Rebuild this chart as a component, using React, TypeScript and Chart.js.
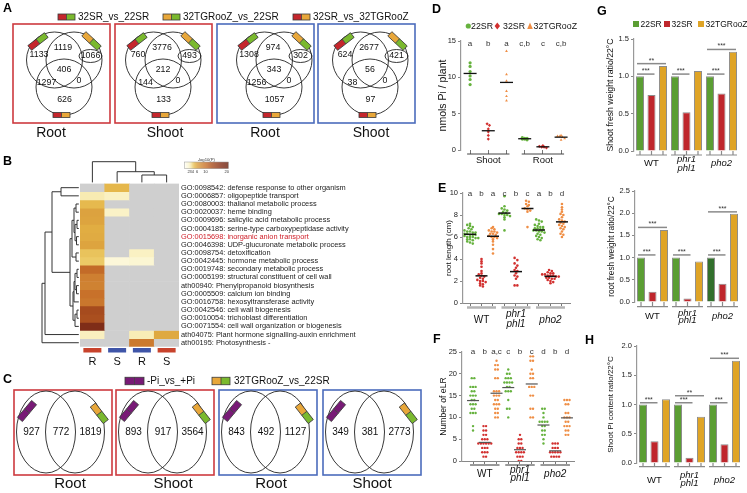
import React, { useEffect, useRef } from 'react';
import { Chart, registerables } from 'chart.js';

Chart.register(...registerables);

const FF = '"Liberation Sans", Arial, Helvetica, sans-serif';
Chart.defaults.font.family = FF;
Chart.defaults.color = '#222';

const RED = '#c5262c';
const GREEN = '#7ab92e';
const ORANGE = '#e8a73a';
const PURPLE = '#781a76';
const BLUE = '#3f55a8';
const BOX_RED = '#cd3a3f';
const BOX_BLUE = '#4b6cbc';

// ================= Panel A (Venn counts) =================
const A_LEGEND = ['32SR_vs_22SR', '32TGRooZ_vs_22SR', '32SR_vs_32TGRooZ'];
const A_TISSUES = ['Root', 'Shoot', 'Root', 'Shoot'];
// order: left only, left∩right, right only, all three, left∩bottom, right∩bottom, bottom only
const A_ROOT_1 = [1133, 1119, 1066, 406, 1297, 0, 626];
const A_SHOOT_1 = [760, 3776, 493, 212, 144, 0, 133];
const A_ROOT_2 = [1308, 974, 302, 343, 1256, 0, 1057];
const A_SHOOT_2 = [624, 2677, 421, 56, 38, 0, 97];

// ================= Panel B (enrichment heatmap, -log10 P) =================
const HEAT_TERMS = [
  'GO:0098542: defense response to other organism',
  'GO:0006857: oligopeptide transport',
  'GO:0080003: thalianol metabolic process',
  'GO:0020037: heme binding',
  'GO:0009696: salicylic acid metabolic process',
  'GO:0004185: serine-type carboxypeptidase activity',
  'GO:0015698: inorganic anion transport',
  'GO:0046398: UDP-glucuronate metabolic process',
  'GO:0098754: detoxification',
  'GO:0042445: hormone metabolic process',
  'GO:0019748: secondary metabolic process',
  'GO:0005199: structural constituent of cell wall',
  'ath00940: Phenylpropanoid biosynthesis',
  'GO:0005509: calcium ion binding',
  'GO:0016758: hexosyltransferase activity',
  'GO:0042546: cell wall biogenesis',
  'GO:0010054: trichoblast differentiation',
  'GO:0071554: cell wall organization or biogenesis',
  'ath04075: Plant hormone signalling-auxin enrichment',
  'ath00195: Photosynthesis -',
];
const HEAT_HIGHLIGHT = 6;
const HEAT_COL_LABELS = ['R', 'S', 'R', 'S'];
const HEAT_COL_1 = [null, 2.7, 4.7, 5.9, 5.8, 5.3, 5.4, 5.8, 4.3, 4.0, 10.5, 8.7, 8.5, 10, 9.5, 13.5, 13, 18, 2.4, null];
const HEAT_COL_2 = [4.8, 2.3, null, 2.2, null, null, null, null, null, 1.5, null, null, null, null, null, null, null, null, null, null];
const HEAT_COL_3 = [null, null, null, null, null, null, null, null, 2.3, 1.8, null, null, null, null, null, null, null, null, 2.6, 9.2];
const HEAT_COL_4 = [null, null, null, null, null, null, null, null, null, null, null, null, null, null, null, null, null, null, 5.5, null];
const HEAT_KEY_TICKS = [2, 3, 4, 6, 10, 20];

// ================= Panel C =================
const C_LEGEND = ['-Pi_vs_+Pi', '32TGRooZ_vs_22SR'];
const C_TISSUES = ['Root', 'Shoot', 'Root', 'Shoot'];
const C_ROOT_1 = [927, 772, 1819];
const C_SHOOT_1 = [893, 917, 3564];
const C_ROOT_2 = [843, 492, 1127];
const C_SHOOT_2 = [349, 381, 2773];

// ================= Panel D =================
const TREATMENTS = ['22SR', '32SR', '32TGRooZ'];
const D_TISSUES = ['Shoot', 'Root'];
const D_SHOOT_22SR = [12.0, 11.5, 10.8, 10.2, 9.7, 9.0];
const D_SHOOT_32SR = [3.6, 3.4, 2.9, 2.5, 2.0, 1.5];
const D_SHOOT_32TG = [13.6, 10.4, 9.5, 8.1, 7.4, 6.8];
const D_ROOT_22SR = [1.7, 1.6, 1.6, 1.5, 1.5, 1.4];
const D_ROOT_32SR = [0.6, 0.5, 0.4, 0.4, 0.3];
const D_ROOT_32TG = [2.0, 1.9, 1.9, 1.8, 1.6, 1.4];
const D_LETTERS = ['a', 'b', 'a', 'c,b', 'c', 'c,b'];

// ================= Panel E (root length, cm) =================
const GENOTYPES = ['WT', 'phr1 phl1', 'pho2'];
const E_WT_22SR = [7.2, 7.1, 7.0, 6.9, 6.8, 6.7, 6.6, 6.5, 6.5, 6.4, 6.4, 6.3, 6.3, 6.2, 6.2, 6.2, 6.1, 6.1, 6.0, 6.0, 6.0, 5.9, 5.9, 5.8, 5.8, 5.7, 5.6, 5.5, 5.4];
const E_WT_32SR = [4.0, 3.8, 3.6, 3.3, 2.9, 2.7, 2.6, 2.5, 2.4, 2.3, 2.2, 2.1, 2.0, 2.0, 1.9, 1.8, 1.7, 1.6, 1.5];
const E_WT_32TG = [6.9, 6.8, 6.7, 6.6, 6.5, 6.5, 6.4, 6.3, 6.3, 6.2, 6.1, 6.0, 6.0, 5.9, 5.8, 5.6, 5.3, 4.9, 4.5];
const E_PHR_22SR = [9.7, 8.8, 8.6, 8.5, 8.4, 8.3, 8.2, 8.1, 8.1, 8.0, 8.0, 7.9, 7.8, 7.6, 6.6];
const E_PHR_32SR = [4.1, 3.9, 3.6, 3.4, 3.2, 3.0, 2.9, 2.7, 2.5, 2.4, 2.2, 1.6, 1.6];
const E_PHR_32TG = [9.3, 9.2, 9.0, 8.9, 8.8, 8.6, 8.5, 8.4, 8.3, 6.9];
const E_PHO_22SR = [7.6, 7.5, 7.4, 7.2, 7.1, 7.0, 6.9, 6.9, 6.8, 6.8, 6.7, 6.7, 6.6, 6.6, 6.5, 6.5, 6.4, 6.3, 6.2, 6.1, 6.0, 5.9, 5.8, 5.7];
const E_PHO_32SR = [3.0, 2.9, 2.8, 2.7, 2.7, 2.6, 2.6, 2.5, 2.5, 2.5, 2.4, 2.4, 2.3, 2.3, 2.2, 2.2, 2.1, 2.0, 1.9, 1.8];
const E_PHO_32TG = [9.0, 8.7, 8.5, 8.3, 8.1, 8.0, 7.8, 7.6, 7.5, 7.4, 7.3, 7.2, 7.1, 7.0, 6.9, 6.8, 6.7, 6.5, 6.3, 6.2, 6.0];
const E_LETTERS = ['a', 'b', 'a', 'c', 'b', 'c', 'a', 'b', 'd'];

// ================= Panel F (number of eLR) =================
const F_WT_22SR = [19, 19, 17, 17, 17, 16, 16, 15, 15, 15, 14, 14, 13, 13, 13, 12, 12, 11, 11, 11, 8, 7];
const F_WT_32SR = [8, 8, 7, 7, 6, 6, 5, 5, 5, 4, 4, 4, 4, 4, 4, 3, 3, 3, 2, 2, 2, 1, 1];
const F_WT_32TG = [23, 22, 22, 21, 21, 19, 19, 16, 16, 16, 15, 15, 15, 14, 14, 13, 13, 13, 12, 12, 11, 11, 10, 10];
const F_PHR_22SR = [21, 20, 20, 19, 19, 19, 18, 18, 18, 18, 17, 17, 16, 16, 16, 14, 12, 12, 10];
const F_PHR_32SR = [6, 5, 5, 4, 4, 3, 3, 3, 2, 2, 2, 2, 1, 1, 1, 0, 0];
const F_PHR_32TG = [24, 24, 23, 23, 21, 20, 20, 19, 19, 17, 17, 17, 15, 15, 12, 12, 10, 10];
const F_PHO_22SR = [12, 12, 11, 10, 9, 9, 9, 9, 8, 8, 7, 7, 6, 6, 5, 4];
const F_PHO_32SR = [4, 4, 4, 3, 3, 3, 2, 2, 2, 2, 2, 1, 1, 1, 1];
const F_PHO_32TG = [14, 14, 14, 13, 13, 11, 11, 10, 10, 10, 9, 9, 8, 8, 8, 7, 7, 6, 6];
const F_LETTERS = ['a', 'b', 'a,c', 'c', 'b', 'c', 'd', 'b', 'd'];

// ================= Panel G / H (ratios to 22°C) =================
const G_SHOOT_22SR = [1.0, 1.0, 1.0];
const G_SHOOT_32SR = [0.75, 0.52, 0.77];
const G_SHOOT_32TG = [1.14, 1.07, 1.33];
const G_SHOOT_SIG = [[0, 0, 1, 1.03, '***'], [0, 0, 2, 1.17, '**'], [1, 0, 1, 1.03, '***'], [2, 0, 1, 1.03, '***'], [2, 0, 2, 1.36, '***']];
const G_ROOT_22SR = [1.0, 1.0, 1.0];
const G_ROOT_32SR = [0.23, 0.08, 0.41];
const G_ROOT_32TG = [1.62, 0.91, 1.99];
const G_ROOT_SIG = [[0, 0, 1, 1.06, '***'], [0, 0, 2, 1.68, '***'], [1, 0, 1, 1.06, '***'], [2, 0, 1, 1.06, '***'], [2, 0, 2, 2.03, '***']];
const H_22SR = [1.0, 1.0, 1.0];
const H_32SR = [0.37, 0.09, 0.32];
const H_32TG = [1.09, 0.79, 1.75];
const H_SIG = [[0, 0, 1, 1.03, '***'], [1, 0, 1, 1.03, '***'], [1, 0, 2, 1.15, '**'], [2, 0, 1, 1.03, '***'], [2, 0, 2, 1.79, '***']];

// ---------------- helpers ----------------
function txt(ctx: any, s: string, x: number, y: number, size: number, o: any = {}) {
  ctx.font = `${o.italic ? 'italic ' : ''}${o.bold ? 'bold ' : ''}${size}px ${FF}`;
  ctx.fillStyle = o.color || '#111';
  ctx.textAlign = o.align || 'center';
  ctx.textBaseline = o.baseline || 'middle';
  ctx.fillText(s, x, y);
}

function swatch(ctx: any, cx: number, cy: number, angle: number, len: number, h: number, c1: string, c2: string) {
  ctx.save();
  ctx.translate(cx, cy);
  ctx.rotate((angle * Math.PI) / 180);
  ctx.fillStyle = c1;
  ctx.fillRect(-len / 2, -h / 2, len / 2, h);
  ctx.fillStyle = c2;
  ctx.fillRect(0, -h / 2, len / 2, h);
  ctx.strokeStyle = '#3a3a3a';
  ctx.lineWidth = 0.8;
  ctx.strokeRect(-len / 2, -h / 2, len, h);
  ctx.beginPath();
  ctx.moveTo(0, -h / 2);
  ctx.lineTo(0, h / 2);
  ctx.stroke();
  ctx.restore();
}

function mean(a: number[]) {
  return a.reduce((s, v) => s + v, 0) / a.length;
}

function swarm(values: number[], col: number, dx: number, bin: number) {
  const bins = new Map<number, number[]>();
  values.forEach((v) => {
    const k = Math.round(v / bin);
    if (!bins.has(k)) bins.set(k, []);
    bins.get(k)!.push(v);
  });
  const pts: any[] = [];
  bins.forEach((vs) => vs.forEach((v, j) => pts.push({ x: col + (j - (vs.length - 1) / 2) * dx, y: v })));
  return pts;
}

const BASE_OPTS = () => ({
  responsive: false,
  animation: false,
  devicePixelRatio: 1,
  events: [],
  plugins: { legend: { display: false }, tooltip: { enabled: false } },
});

function yAxisCfg(min: number, max: number, step: number, title: string, titleSize: number, width: number, fmt?: any) {
  return {
    type: 'linear',
    min,
    max,
    ticks: { stepSize: step, font: { family: FF, size: 7.5 }, color: '#222', padding: 2, callback: fmt || ((v: any) => v) },
    grid: { display: true, drawOnChartArea: false, drawTicks: true, tickLength: 3, color: '#888' },
    border: { display: true, color: '#999', width: 1.2 },
    title: { display: true, text: title, font: { family: FF, size: titleSize }, color: '#111', padding: 0 },
    afterFit: (s: any) => {
      s.width = width;
    },
  };
}

// ---------------- Venn charts ----------------
function pageConfig(x0: number, x1: number, y0: number, y1: number, plugin: any) {
  return {
    type: 'scatter',
    data: { datasets: [] },
    options: {
      ...BASE_OPTS(),
      layout: { padding: 0 },
      scales: {
        x: { type: 'linear', min: x0, max: x1, display: false },
        y: { type: 'linear', min: y0, max: y1, reverse: true, display: false },
      },
    },
    plugins: [plugin],
  };
}

const A_SETS = [A_ROOT_1, A_SHOOT_1, A_ROOT_2, A_SHOOT_2];
const A_BOX_X = [13, 115, 217, 318];
const A_SHIFT = [0, -3, 6, 1];
const A_LABEL_POS = [[26, 31], [50, 23.5], [77.5, 32], [51, 45.5], [33.5, 58.5], [66, 56.5], [51.5, 75.5]];
const A_TISSUE_X = [51, 165, 265, 371];

const vennAPlugin = {
  id: 'vennA',
  afterDraw(chart: any) {
    const { ctx } = chart;
    const X = (v: number) => chart.scales.x.getPixelForValue(v);
    const Y = (v: number) => chart.scales.y.getPixelForValue(v);
    ctx.save();
    txt(ctx, 'A', X(3), Y(2), 12.5, { bold: true, align: 'left', baseline: 'top', color: '#000' });
    const legX = [58, 163, 293];
    const legC = [[RED, GREEN], [ORANGE, GREEN], [RED, ORANGE]];
    A_LEGEND.forEach((s, i) => {
      swatch(ctx, X(legX[i] + 8.5), Y(17), 0, 17, 6, legC[i][0], legC[i][1]);
      txt(ctx, s, X(legX[i] + 20), Y(17.5), 10, { align: 'left' });
    });
    A_SETS.forEach((nums, i) => {
      const bx = A_BOX_X[i];
      const by = 24;
      const ox = bx + A_SHIFT[i];
      ctx.strokeStyle = i < 2 ? BOX_RED : BOX_BLUE;
      ctx.lineWidth = 1.6;
      ctx.strokeRect(X(bx), Y(by), 97, 99);
      ctx.strokeStyle = '#222';
      ctx.lineWidth = 0.9;
      [[41.5, 36], [61, 36], [51, 63]].forEach(([cx, cy]) => {
        ctx.beginPath();
        ctx.arc(X(ox + cx), Y(by + cy), 28, 0, Math.PI * 2);
        ctx.stroke();
      });
      const [ex, ey] = A_LABEL_POS[2];
      ctx.beginPath();
      ctx.ellipse(X(ox + ex), Y(by + ey), 11.5, 6.5, 0, 0, Math.PI * 2);
      ctx.stroke();
      nums.forEach((n, k) => txt(ctx, String(n), X(ox + A_LABEL_POS[k][0]), Y(by + A_LABEL_POS[k][1]), 8.8));
      swatch(ctx, X(ox + 25), Y(by + 17.5), -38, 21, 6, RED, GREEN);
      swatch(ctx, X(ox + 78.5), Y(by + 17), 43, 21, 6, ORANGE, GREEN);
      swatch(ctx, X(ox + 48.5), Y(by + 91), 0, 17, 5, RED, ORANGE);
      txt(ctx, A_TISSUES[i], X(A_TISSUE_X[i]), Y(133), 14);
    });
    ctx.restore();
  },
};

const C_SETS = [C_ROOT_1, C_SHOOT_1, C_ROOT_2, C_SHOOT_2];
const C_BOX_X = [14, 116, 219, 323];
const C_TISSUE_X = [70, 173, 271, 372];

const vennCPlugin = {
  id: 'vennC',
  afterDraw(chart: any) {
    const { ctx } = chart;
    const X = (v: number) => chart.scales.x.getPixelForValue(v);
    const Y = (v: number) => chart.scales.y.getPixelForValue(v);
    ctx.save();
    txt(ctx, 'C', X(3), Y(373), 12.5, { bold: true, align: 'left', baseline: 'top', color: '#000' });
    swatch(ctx, X(134.5), Y(381), 0, 19, 7.5, PURPLE, PURPLE);
    txt(ctx, C_LEGEND[0], X(147), Y(381.5), 10, { align: 'left' });
    swatch(ctx, X(221), Y(381), 0, 18, 7.5, ORANGE, GREEN);
    txt(ctx, C_LEGEND[1], X(234), Y(381.5), 10, { align: 'left' });
    C_SETS.forEach((nums, i) => {
      const bx = C_BOX_X[i];
      const by = 390;
      ctx.strokeStyle = i < 2 ? BOX_RED : BOX_BLUE;
      ctx.lineWidth = 1.6;
      ctx.strokeRect(X(bx), Y(by), 98, 85);
      ctx.strokeStyle = '#222';
      ctx.lineWidth = 0.9;
      [32, 61].forEach((cx) => {
        ctx.beginPath();
        ctx.ellipse(X(bx + cx), Y(by + 42), 29.5, 41, 0, 0, Math.PI * 2);
        ctx.stroke();
      });
      [17.5, 47, 76.5].forEach((lx, k) => txt(ctx, String(nums[k]), X(bx + lx), Y(by + 42), 10));
      swatch(ctx, X(bx + 13), Y(by + 21), -50, 22, 6.5, PURPLE, PURPLE);
      swatch(ctx, X(bx + 85.3), Y(by + 23.3), 52, 21, 6.5, ORANGE, GREEN);
      txt(ctx, C_TISSUES[i], X(C_TISSUE_X[i]), Y(484), 15);
    });
    ctx.restore();
  },
};

// ---------------- Heatmap ----------------
const HEAT_COLUMNS = [HEAT_COL_1, HEAT_COL_2, HEAT_COL_3, HEAT_COL_4];
const CMAP: [number, number[]][] = [
  [0, [255, 254, 245]], [2, [251, 245, 207]], [3, [246, 231, 166]], [4, [236, 202, 102]], [5, [227, 178, 68]],
  [6, [219, 160, 62]], [8, [209, 135, 53]], [10, [200, 113, 42]], [13, [170, 79, 31]], [17, [135, 49, 26]], [21, [104, 34, 16]],
];
function heatColor(v: any) {
  if (v === null || v === undefined) return '#cfcfcf';
  for (let i = 0; i < CMAP.length - 1; i++) {
    const [a, ca] = CMAP[i];
    const [b, cb] = CMAP[i + 1];
    if (v <= b) {
      const t = Math.max(0, (v - a) / (b - a));
      const c = ca.map((x, k) => Math.round(x + (cb[k] - x) * t));
      return `rgb(${c[0]},${c[1]},${c[2]})`;
    }
  }
  const c = CMAP[CMAP.length - 1][1];
  return `rgb(${c[0]},${c[1]},${c[2]})`;
}

const N = (a: any, b: any, h: number) => ({ a, b, h });
const ROW_TREE = N(
  N(
    N(N(0, 1, 19), N(
      N(N(N(2, 3, 4), N(N(4, 5, 3), N(6, 7, 3.5), 5), 6), N(8, 9, 4), 8),
      N(N(14, N(N(10, 11, 3), N(12, 13, 3.5), 5), 6), N(N(15, 16, 3), 17, 5), 7),
      10), 28),
    18, 35),
  19, 38);
const COL_TREE = N(0, N(1, N(2, 3, 8.6), 11.9), 21.9);

function drawTree(ctx: any, node: any, leaf: (i: number) => number, off: (h: number) => number, orient: string): any {
  if (typeof node === 'number') return { p: leaf(node), h: 1.2 };
  const a = drawTree(ctx, node.a, leaf, off, orient);
  const b = drawTree(ctx, node.b, leaf, off, orient);
  const q = off(node.h);
  ctx.beginPath();
  if (orient === 'h') {
    ctx.moveTo(off(a.h), a.p);
    ctx.lineTo(q, a.p);
    ctx.lineTo(q, b.p);
    ctx.lineTo(off(b.h), b.p);
  } else {
    ctx.moveTo(a.p, off(a.h));
    ctx.lineTo(a.p, q);
    ctx.lineTo(b.p, q);
    ctx.lineTo(b.p, off(b.h));
  }
  ctx.stroke();
  return { p: (a.p + b.p) / 2, h: node.h };
}

const HEAT_BAR_COLORS = ['#c8432c', BLUE, BLUE, '#c8432c'];

const heatPlugin = {
  id: 'heatExtras',
  afterDraw(chart: any) {
    const { ctx, chartArea: ca } = chart;
    const xs = chart.scales.x;
    const ys = chart.scales.y;
    ctx.save();
    txt(ctx, 'B', 3, 10, 12.5, { bold: true, align: 'left', baseline: 'top', color: '#000' });
    ctx.strokeStyle = '#333';
    ctx.lineWidth = 1;
    drawTree(ctx, ROW_TREE, (i) => ys.getPixelForValue(i + 0.5), (h) => ca.left - h, 'h');
    drawTree(ctx, COL_TREE, (i) => xs.getPixelForValue(i), (h) => ca.top - h, 'v');
    // color key
    const kx0 = 184.3;
    const kpx = 2.125;
    for (let px = 0; px < 44; px++) {
      ctx.fillStyle = heatColor(px / kpx);
      ctx.fillRect(kx0 + px, 17, 1.05, 6.7);
    }
    ctx.strokeStyle = '#999';
    ctx.lineWidth = 0.5;
    ctx.strokeRect(kx0, 17, 44, 6.7);
    txt(ctx, '-log10(P)', kx0 + 22, 14.5, 4.2, { color: '#333' });
    HEAT_KEY_TICKS.forEach((t) => txt(ctx, String(t), kx0 + t * kpx, 26.5, 4, { color: '#333' }));
    // column bars
    HEAT_COL_LABELS.forEach((s, i) => {
      const cx = xs.getPixelForValue(i);
      ctx.fillStyle = HEAT_BAR_COLORS[i];
      ctx.fillRect(cx - 9, ca.bottom + 1.2, 18, 4.5);
      txt(ctx, s, cx, ca.bottom + 15, 11);
    });
    ctx.restore();
  },
};

const heatConfig = () => ({
  type: 'bar',
  data: {
    labels: HEAT_COL_LABELS.map((s, i) => s + i),
    datasets: HEAT_TERMS.map((_, r) => ({
      data: HEAT_COLUMNS.map(() => 1),
      backgroundColor: HEAT_COLUMNS.map((col) => heatColor(col[r])),
      borderWidth: 0,
      barPercentage: 1,
      categoryPercentage: 1,
    })),
  },
  options: {
    ...BASE_OPTS(),
    layout: { padding: { left: 80, top: 38.6, right: 0, bottom: 23.2 } },
    scales: {
      x: { type: 'category', stacked: true, display: false },
      y: {
        type: 'linear',
        stacked: true,
        reverse: true,
        min: 0,
        max: HEAT_TERMS.length,
        position: 'right',
        afterBuildTicks: (s: any) => {
          s.ticks = HEAT_TERMS.map((_, i) => ({ value: i + 0.5 }));
        },
        ticks: {
          autoSkip: false,
          padding: 2,
          font: { family: FF, size: 7.4 },
          color: (c: any) => (c.index === HEAT_HIGHLIGHT ? '#d0202a' : '#222'),
          callback: (_v: any, i: number) => HEAT_TERMS[i],
        },
        grid: { display: false, drawTicks: false },
        border: { display: false },
        afterFit: (s: any) => {
          s.width = 241;
        },
      },
    },
  },
  plugins: [heatPlugin],
});

// ---------------- Dot plots ----------------
const DOT_GREEN = '#66b23e';
const DOT_RED = '#d2302f';
const DOT_ORANGE = '#ef8e45';

function dotPlugin(o: any) {
  return {
    id: 'dotExtras',
    afterDatasetsDraw(chart: any) {
      const { ctx } = chart;
      const xs = chart.scales.x;
      const ys = chart.scales.y;
      ctx.save();
      ctx.strokeStyle = o.meanColor;
      ctx.lineWidth = o.meanWidth;
      o.groups.forEach((vals: number[], i: number) => {
        const px = xs.getPixelForValue(i);
        const py = ys.getPixelForValue(mean(vals));
        ctx.beginPath();
        ctx.moveTo(px - o.meanHalf, py);
        ctx.lineTo(px + o.meanHalf, py);
        ctx.stroke();
      });
      ctx.restore();
    },
    afterDraw(chart: any) {
      const { ctx, chartArea: ca } = chart;
      const xs = chart.scales.x;
      ctx.save();
      txt(ctx, o.panel, o.panelX, o.panelY, 12.5, { bold: true, align: 'left', baseline: 'top', color: '#000' });
      o.letters.forEach((s: string, i: number) => txt(ctx, s, xs.getPixelForValue(i), ca.top + o.letterDy, 8, { color: '#333' }));
      o.sets.forEach((g: any) => {
        const x0 = xs.getPixelForValue(g.from) - 3;
        const x1 = xs.getPixelForValue(g.to) + 3;
        const y = ca.bottom + o.ulDy;
        ctx.strokeStyle = o.ulColor;
        ctx.lineWidth = o.ulWidth;
        ctx.beginPath();
        ctx.moveTo(x0, y);
        ctx.lineTo(x1, y);
        ctx.stroke();
        const cx = (x0 + x1) / 2;
        const lines = g.label.split(' ');
        if (lines.length === 1) txt(ctx, lines[0], cx, ca.bottom + o.labelDy, o.labelSize, { italic: g.italic });
        else {
          txt(ctx, lines[0], cx, ca.bottom + o.line1Dy, o.labelSize, { italic: g.italic });
          txt(ctx, lines[1], cx, ca.bottom + o.line2Dy, o.labelSize, { italic: g.italic });
        }
      });
      if (o.legend) o.legend(ctx);
      ctx.restore();
    },
  };
}

function dotConfig(o: any) {
  return {
    type: 'scatter',
    data: {
      datasets: o.groups.map((vals: number[], i: number) => ({
        data: swarm(vals, i, o.dx, o.bin),
        backgroundColor: o.colors[i % 3],
        borderColor: o.colors[i % 3],
        borderWidth: 0,
        pointRadius: o.radius,
        pointStyle: o.styles ? o.styles[i % 3] : 'circle',
      })),
    },
    options: {
      ...BASE_OPTS(),
      layout: { padding: { left: o.padLeft, top: o.padTop, right: o.padRight, bottom: 0 } },
      scales: {
        x: {
          type: 'linear',
          min: o.xMin,
          max: o.xMax,
          afterBuildTicks: (s: any) => {
            s.ticks = o.groups.map((_: any, i: number) => ({ value: i }));
          },
          ticks: { display: false },
          grid: { display: true, drawOnChartArea: false, drawTicks: true, tickLength: o.tickLen, color: '#777' },
          border: { display: o.xBorder, color: '#888' },
          afterFit: (s: any) => {
            s.height = o.xHeight;
          },
        },
        y: yAxisCfg(o.yMin, o.yMax, o.yStep, o.title, o.titleSize, o.yWidth),
      },
    },
    plugins: [dotPlugin(o)],
  };
}

const GROUP_SETS = GENOTYPES.map((g, i) => ({ from: i * 3, to: i * 3 + 2, label: g, italic: i > 0 }));
const TRIPLE_COLORS = [DOT_GREEN, DOT_RED, DOT_ORANGE];

const dConfig = () =>
  dotConfig({
    groups: [D_SHOOT_22SR, D_SHOOT_32SR, D_SHOOT_32TG, D_ROOT_22SR, D_ROOT_32SR, D_ROOT_32TG],
    colors: TRIPLE_COLORS,
    styles: ['circle', 'rectRot', 'triangle'],
    radius: 1.6,
    dx: 0.13,
    bin: 0.35,
    xMin: -0.5,
    xMax: 5.6,
    yMin: 0,
    yMax: 15,
    yStep: 5,
    title: 'nmols Pi / plant',
    titleSize: 10.5,
    padLeft: 11.7,
    yWidth: 24.3,
    padTop: 41,
    padRight: 13,
    xHeight: 20,
    xBorder: false,
    tickLen: 4,
    panel: 'D',
    panelX: 7,
    panelY: 3,
    letters: D_LETTERS,
    letterDy: 3,
    meanColor: '#111',
    meanWidth: 1.3,
    meanHalf: 6.5,
    sets: D_TISSUES.map((t, i) => ({ from: i * 3, to: i * 3 + 2, label: t, italic: false })),
    ulDy: 4,
    ulColor: '#444',
    ulWidth: 1,
    labelDy: 10,
    labelSize: 9.5,
    legend: (ctx: any) => {
      const y = 26;
      ctx.fillStyle = DOT_GREEN;
      ctx.beginPath();
      ctx.arc(43.3, y, 2.6, 0, Math.PI * 2);
      ctx.fill();
      txt(ctx, TREATMENTS[0], 46, y + 0.5, 8.8, { align: 'left' });
      ctx.fillStyle = DOT_RED;
      ctx.beginPath();
      ctx.moveTo(72.3, y - 3.5);
      ctx.lineTo(75, y);
      ctx.lineTo(72.3, y + 3.5);
      ctx.lineTo(69.6, y);
      ctx.closePath();
      ctx.fill();
      txt(ctx, TREATMENTS[1], 78, y + 0.5, 8.8, { align: 'left' });
      ctx.fillStyle = DOT_ORANGE;
      ctx.beginPath();
      ctx.moveTo(105, y - 3.5);
      ctx.lineTo(107.8, y + 3);
      ctx.lineTo(102.2, y + 3);
      ctx.closePath();
      ctx.fill();
      txt(ctx, TREATMENTS[2], 108.5, y + 0.5, 8.8, { align: 'left' });
    },
  });

const eConfig = () =>
  dotConfig({
    groups: [E_WT_22SR, E_WT_32SR, E_WT_32TG, E_PHR_22SR, E_PHR_32SR, E_PHR_32TG, E_PHO_22SR, E_PHO_32SR, E_PHO_32TG],
    colors: TRIPLE_COLORS,
    radius: 1.3,
    dx: 0.24,
    bin: 0.25,
    xMin: -0.61,
    xMax: 8.7,
    yMin: 0,
    yMax: 10,
    yStep: 2,
    title: 'root length (cm)',
    titleSize: 8,
    padLeft: 18.5,
    yWidth: 19.5,
    padTop: 23,
    padRight: 15,
    xHeight: 32,
    xBorder: true,
    tickLen: 3,
    panel: 'E',
    panelX: 13,
    panelY: 12,
    letters: E_LETTERS,
    letterDy: 0.5,
    meanColor: '#111',
    meanWidth: 1.5,
    meanHalf: 6,
    sets: GROUP_SETS,
    ulDy: 4.5,
    ulColor: '#b3b3b3',
    ulWidth: 2.5,
    labelDy: 17,
    line1Dy: 11,
    line2Dy: 21,
    labelSize: 10,
  });

const fConfig = () =>
  dotConfig({
    groups: [F_WT_22SR, F_WT_32SR, F_WT_32TG, F_PHR_22SR, F_PHR_32SR, F_PHR_32TG, F_PHO_22SR, F_PHO_32SR, F_PHO_32TG],
    colors: TRIPLE_COLORS,
    radius: 1.2,
    dx: 0.22,
    bin: 0.5,
    xMin: -0.94,
    xMax: 8.6,
    yMin: 0,
    yMax: 25,
    yStep: 5,
    title: 'Number of eLR',
    titleSize: 8.6,
    padLeft: 13.1,
    yWidth: 23.9,
    padTop: 27,
    padRight: 11,
    xHeight: 32,
    xBorder: true,
    tickLen: 3,
    panel: 'F',
    panelX: 8,
    panelY: 8,
    letters: F_LETTERS,
    letterDy: 0,
    meanColor: '#555',
    meanWidth: 1.2,
    meanHalf: 6,
    sets: GROUP_SETS,
    ulDy: 4,
    ulColor: '#333',
    ulWidth: 1,
    labelDy: 13,
    line1Dy: 9,
    line2Dy: 17.5,
    labelSize: 10,
  });

// ---------------- Bar charts ----------------
const BAR_GREEN = '#5b9e33';
const BAR_DARK_GREEN = '#32702c';
const BAR_RED = '#bf262c';
const BAR_ORANGE = '#dfa426';

function barPlugin(o: any) {
  return {
    id: 'barExtras',
    afterDraw(chart: any) {
      const { ctx, chartArea: ca } = chart;
      const ys = chart.scales.y;
      const cx = (d: number, g: number) => chart.getDatasetMeta(d).data[g].x;
      ctx.save();
      if (o.panel) txt(ctx, o.panel, o.panelX, o.panelY, 12.5, { bold: true, align: 'left', baseline: 'top', color: '#000' });
      o.sig.forEach(([g, a, b, v, t]: any) => {
        const x0 = cx(a, g) - 3;
        const x1 = cx(b, g) + 3;
        const y = ys.getPixelForValue(v);
        ctx.strokeStyle = '#8a8a8a';
        ctx.lineWidth = 1.5;
        ctx.beginPath();
        ctx.moveTo(x0, y);
        ctx.lineTo(x1, y);
        ctx.stroke();
        txt(ctx, t, (x0 + x1) / 2, y + 0.5, 7, { baseline: 'bottom', color: '#333' });
      });
      GENOTYPES.forEach((gname, g) => {
        const xsArr = [0, 1, 2].map((d) => cx(d, g));
        const y = ca.bottom + o.ulDy;
        ctx.strokeStyle = '#8a8a8a';
        ctx.lineWidth = 1.2;
        ctx.beginPath();
        ctx.moveTo(xsArr[0] - 4, y);
        ctx.lineTo(xsArr[2] + 4, y);
        xsArr.forEach((x) => {
          ctx.moveTo(x, ca.bottom);
          ctx.lineTo(x, y);
        });
        ctx.stroke();
        const mx = xsArr[1];
        const lines = gname.split(' ');
        if (lines.length === 1) txt(ctx, lines[0], mx, ca.bottom + o.labelDy, 9.5, { italic: g > 0 });
        else {
          txt(ctx, lines[0], mx, ca.bottom + o.line1Dy, 9.5, { italic: true });
          txt(ctx, lines[1], mx, ca.bottom + o.line2Dy, 9.5, { italic: true });
        }
      });
      if (o.legend) {
        const y = 24;
        [BAR_GREEN, BAR_RED, BAR_ORANGE].forEach((c, i) => {
          const lx = [48, 79, 113][i];
          ctx.fillStyle = c;
          ctx.fillRect(lx, y - 3, 6, 6);
          txt(ctx, TREATMENTS[i], lx + 7.5, y + 0.5, 8.5, { align: 'left' });
        });
      }
      ctx.restore();
    },
  };
}

function barConfig(o: any) {
  const common = { borderColor: '#8d8d8d', borderWidth: 1, barPercentage: 0.7, categoryPercentage: 0.985 };
  return {
    type: 'bar',
    data: {
      labels: GENOTYPES,
      datasets: [
        { data: o.d22, backgroundColor: o.greens, ...common },
        { data: o.d32, backgroundColor: BAR_RED, ...common },
        { data: o.dTG, backgroundColor: BAR_ORANGE, ...common },
      ],
    },
    options: {
      ...BASE_OPTS(),
      layout: { padding: { left: o.padLeft, top: o.padTop, right: o.padRight, bottom: 0 } },
      scales: {
        x: {
          type: 'category',
          grid: { display: false, drawTicks: false },
          border: { display: false },
          ticks: { display: false },
          afterFit: (s: any) => {
            s.height = o.xHeight;
          },
        },
        y: yAxisCfg(0, o.yMax, 0.5, o.title, o.titleSize, o.yWidth, (v: any) => Number(v).toFixed(1)),
      },
    },
    plugins: [barPlugin(o)],
  };
}

const gShootConfig = () =>
  barConfig({
    d22: G_SHOOT_22SR,
    d32: G_SHOOT_32SR,
    dTG: G_SHOOT_32TG,
    greens: BAR_GREEN,
    sig: G_SHOOT_SIG,
    yMax: 1.5,
    title: 'Shoot fresh weight ratio/22°C',
    titleSize: 8.7,
    padLeft: 20.8,
    yWidth: 28.2,
    padTop: 39,
    padRight: 8,
    xHeight: 27,
    panel: 'G',
    panelX: 12,
    panelY: 5,
    legend: true,
    ulDy: 4,
    labelDy: 12,
    line1Dy: 8.5,
    line2Dy: 17.5,
  });

const gRootConfig = () =>
  barConfig({
    d22: G_ROOT_22SR,
    d32: G_ROOT_32SR,
    dTG: G_ROOT_32TG,
    greens: [BAR_GREEN, BAR_GREEN, BAR_DARK_GREEN],
    sig: G_ROOT_SIG,
    yMax: 2.5,
    title: 'root fresh weight ratio/22°C',
    titleSize: 8.3,
    padLeft: 21.7,
    yWidth: 28.3,
    padTop: 19,
    padRight: 7,
    xHeight: 28,
    ulDy: 4.7,
    labelDy: 14.7,
    line1Dy: 11,
    line2Dy: 18.5,
  });

const hConfig = () =>
  barConfig({
    d22: H_22SR,
    d32: H_32SR,
    dTG: H_32TG,
    greens: BAR_GREEN,
    sig: H_SIG,
    yMax: 2.0,
    title: 'Shoot Pi content ratio/22°C',
    titleSize: 8,
    padLeft: 20.7,
    yWidth: 31.3,
    padTop: 16,
    padRight: 5,
    xHeight: 30,
    panel: 'H',
    panelX: 0,
    panelY: 4,
    ulDy: 3.7,
    labelDy: 17,
    line1Dy: 12.3,
    line2Dy: 20,
  });

const vennAConfig = () => pageConfig(0, 420, 0, 145, vennAPlugin);
const vennCConfig = () => pageConfig(0, 425, 370, 493, vennCPlugin);

// ---------------- React ----------------
function ChartBox({ left, top, width, height, make }: any) {
  const ref = useRef<HTMLCanvasElement>(null);
  useEffect(() => {
    const chart = new Chart(ref.current as HTMLCanvasElement, make());
    return () => chart.destroy();
  }, []);
  return (
    <canvas
      ref={ref}
      width={width}
      height={height}
      style={{ position: 'absolute', left, top, width, height }}
    />
  );
}

export default function App() {
  return (
    <div style={{ position: 'relative', width: 747, height: 493, background: '#ffffff', overflow: 'hidden' }}>
      <style>{'body{margin:0;background:#fff}'}</style>
      <ChartBox left={0} top={0} width={420} height={145} make={vennAConfig} />
      <ChartBox left={0} top={145} width={420} height={225} make={heatConfig} />
      <ChartBox left={0} top={370} width={425} height={123} make={vennCConfig} />
      <ChartBox left={425} top={0} width={160} height={170} make={dConfig} />
      <ChartBox left={425} top={170} width={160} height={165} make={eConfig} />
      <ChartBox left={425} top={325} width={160} height={168} make={fConfig} />
      <ChartBox left={585} top={0} width={162} height={178} make={gShootConfig} />
      <ChartBox left={585} top={172} width={162} height={158} make={gRootConfig} />
      <ChartBox left={585} top={330} width={162} height={163} make={hConfig} />
    </div>
  );
}
